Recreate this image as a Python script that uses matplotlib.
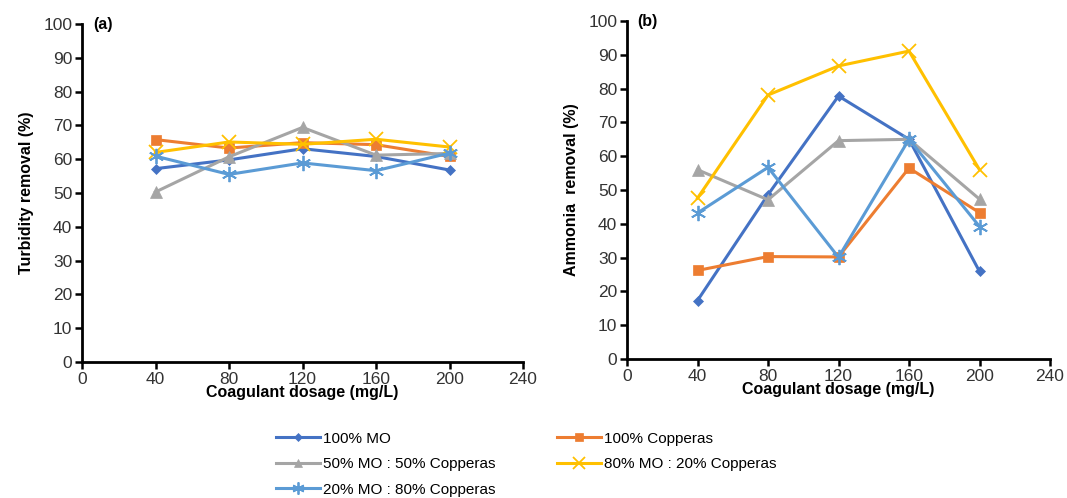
import matplotlib.pyplot as plt

plt.rcParams['font.family'] = ['Liberation Sans', 'DejaVu Sans']

# data
dosage = [40, 80, 120, 160, 200]
series_names = ["100% MO", "100% Copperas", "50% MO : 50% Copperas",
                "80% MO : 20% Copperas", "20% MO : 80% Copperas"]

turb_mo100 = [57.2, 59.8, 63.1, 60.8, 56.8]
turb_cop100 = [65.8, 63.3, 64.9, 64.3, 60.8]
turb_mo50 = [50.3, 60.7, 69.4, 61.2, 61.7]
turb_mo80 = [62.0, 65.1, 64.4, 65.9, 63.6]
turb_mo20 = [60.9, 55.5, 58.9, 56.6, 61.8]

amm_mo100 = [17.3, 48.6, 77.8, 65.0, 25.9]
amm_cop100 = [26.2, 30.3, 30.2, 56.5, 43.3]
amm_mo50 = [56.0, 47.1, 64.6, 65.0, 47.3]
amm_mo80 = [47.6, 78.1, 86.7, 91.1, 56.0]
amm_mo20 = [43.2, 56.7, 30.1, 65.0, 39.2]

colors = ["#4472C4", "#ED7D31", "#A5A5A5", "#FFC000", "#5B9BD5"]
markers = ["D", "s", "^", "x", (6, 2, 0)]
msizes = [5, 7, 8, 10, 11]

fig = plt.figure(figsize=(10.67, 4.98), dpi=100)
ax1 = fig.add_axes([82/1067, 1 - 362/498, 441/1067, 338/498])
ax2 = fig.add_axes([627/1067, 1 - 359/498, 423/1067, 338/498])


def draw(ax, data, ylabel, tag):
    lines = []
    for vals, name, c, m, ms in zip(data, series_names, colors, markers, msizes):
        ln, = ax.plot(dosage, vals, color=c, marker=m, markersize=ms, linewidth=2.2,
                      markeredgewidth=1.3 if m in ("x", (6, 2, 0)) else 0.5,
                      label=name)
        lines.append(ln)
    ax.set_xlim(0, 240)
    ax.set_ylim(0, 100)
    ax.set_xticks(range(0, 241, 40))
    ax.set_yticks(range(0, 101, 10))
    for s in ("top", "right"):
        ax.spines[s].set_visible(False)
    for s in ("left", "bottom"):
        ax.spines[s].set_linewidth(2)
    ax.tick_params(direction="out", length=5, width=1.8, labelsize=12.5,
                   labelcolor="#333333", pad=2)
    ax.set_xlabel("Coagulant dosage (mg/L)", fontsize=11.5, fontweight="bold", labelpad=-1)
    ax.set_ylabel(ylabel, fontsize=11.5, fontweight="bold", labelpad=7)
    ax.text(0.025, 1.02, tag, transform=ax.transAxes, fontsize=11.5,
            fontweight="bold", va="top", ha="left")
    return lines


lines = draw(ax1, [turb_mo100, turb_cop100, turb_mo50, turb_mo80, turb_mo20],
             "Turbidity removal (%)", "(a)")
draw(ax2, [amm_mo100, amm_cop100, amm_mo50, amm_mo80, amm_mo20],
     "Ammonia  removal (%)", "(b)")

# legend rows: MO / Copperas, 50:50 / 80:20, 20:80
order = [0, 2, 4, 1, 3]
fig.legend([lines[i] for i in order], [series_names[i] for i in order],
           ncol=2, loc="upper left", bbox_to_anchor=(262/1067, 1 - 418/498),
           frameon=False, fontsize=11, handlelength=2.9, columnspacing=4.0,
           labelspacing=0.75, handletextpad=0.2, markerscale=0.8)

fig.savefig("out.png", dpi=100)
